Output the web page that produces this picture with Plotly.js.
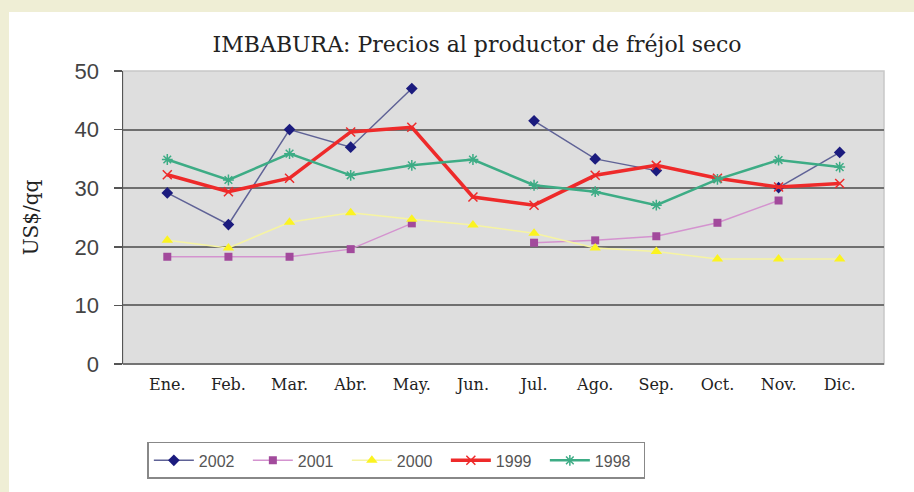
<!DOCTYPE html>
<html>
<head>
<meta charset="utf-8">
<script src="https://cdn.plot.ly/plotly-3.0.1.min.js"></script>
<style>
html,body{margin:0;padding:0;background:#EFEED5;}
#frame{position:absolute;left:9px;top:12px;width:905px;height:480px;background:#ffffff;}
#chart{position:absolute;left:0;top:0;width:914px;height:492px;}
</style>
</head>
<body>
<div id="frame"></div>
<div id="chart"></div>
<script>
const months = ["Ene.","Feb.","Mar.","Abr.","May.","Jun.","Jul.","Ago.","Sep.","Oct.","Nov.","Dic."];
const y2002 = [29.2, 23.8, 40.0, 37.0, 47.0, null, 41.5, 35.0, 33.0, null, 30.1, 36.1];
const y2001 = [18.3, 18.3, 18.3, 19.6, 24.0, null, 20.7, 21.1, 21.8, 24.1, 27.9, null];
const y2000 = [21.1, 19.8, 24.2, 25.8, 24.7, 23.7, 22.3, 19.8, 19.2, 17.9, 17.9, 17.9];
const y1999 = [32.3, 29.4, 31.7, 39.6, 40.4, 28.5, 27.1, 32.2, 33.9, 31.7, 30.2, 30.8];
const y1998 = [34.9, 31.4, 35.9, 32.2, 33.9, 34.9, 30.5, 29.4, 27.1, 31.5, 34.8, 33.6];
const seriesNames = ["2002","2001","2000","1999","1998"];

const traces = [
  {x: months, y: y2002, name: seriesNames[0], mode: "lines+markers",
   line: {color: "#5f6296", width: 1.5}, marker: {symbol: "diamond", size: 9, color: "#1b1b7e"}},
  {x: months, y: y2001, name: seriesNames[1], mode: "lines+markers",
   line: {color: "#d493cf", width: 1.5}, marker: {symbol: "square", size: 8, color: "#a24a9c"}},
  {x: months, y: y2000, name: seriesNames[2], mode: "lines+markers",
   line: {color: "#f6f4a2", width: 1.5}, marker: {symbol: "triangle-up", size: 10, color: "#fbf320"}},
  {x: months, y: y1999, name: seriesNames[3], mode: "lines+markers",
   line: {color: "#ee2a2a", width: 3.5}, marker: {symbol: "x-thin", size: 9, color: "#ee2a2a", line: {color: "#ee2a2a", width: 1.5}}},
  {x: months, y: y1998, name: seriesNames[4], mode: "lines+markers",
   line: {color: "#3dac85", width: 2.5}, marker: {symbol: "asterisk", size: 9, color: "#3dac85", line: {color: "#3dac85", width: 1.5}}}
];

const layout = {
  width: 914, height: 492,
  paper_bgcolor: "rgba(0,0,0,0)",
  plot_bgcolor: "#dedede",
  margin: {l: 123, r: 30, t: 71, b: 128, autoexpand: false},
  showlegend: true,
  title: {text: "IMBABURA: Precios al productor de fréjol seco",
    font: {family: "DejaVu Serif", size: 22, color: "#222"},
    x: 0.522, xanchor: "center", y: 0.91, yanchor: "middle"},
  xaxis: {
    type: "category",
    showgrid: false, zeroline: false,
    showline: false,
    ticks: "",
    ticklabelstandoff: 9,
    tickfont: {family: "DejaVu Serif", size: 16, color: "#222"},
    fixedrange: true
  },
  yaxis: {
    range: [0, 50], dtick: 10,
    showgrid: true, gridcolor: "#6f6f6f", gridwidth: 2,
    zeroline: false,
    showline: true, linecolor: "#555", linewidth: 1.5,
    ticks: "outside", ticklen: 8, tickcolor: "#555", tickwidth: 1.5,
    ticklabelstandoff: 10,
    tickfont: {family: "Liberation Sans", size: 22, color: "#444"},
    title: {text: "US$/qq", font: {family: "DejaVu Serif", size: 20, color: "#222"}, standoff: 30},
    fixedrange: true
  },
  legend: {
    orientation: "h",
    x: 0.032, xanchor: "left",
    y: -0.266, yanchor: "top",
    bordercolor: "#888", borderwidth: 1.5,
    bgcolor: "#ffffff",
    font: {family: "Liberation Sans", size: 16, color: "#555"},
    entrywidth: 44, entrywidthmode: "pixels",
    itemwidth: 40
  },
  shapes: [
    {type: "rect", xref: "paper", yref: "paper", x0: 0, x1: 1, y0: 0, y1: 1,
     line: {color: "#c8c8c8", width: 1.5}, fillcolor: "rgba(0,0,0,0)", layer: "below"},
    {type: "line", xref: "paper", yref: "paper", x0: 0, x1: 1, y0: 0, y1: 0,
     line: {color: "#555", width: 1.5}}
  ]
};

Plotly.newPlot("chart", traces, layout, {displayModeBar: false, staticPlot: true});
</script>
</body>
</html>
